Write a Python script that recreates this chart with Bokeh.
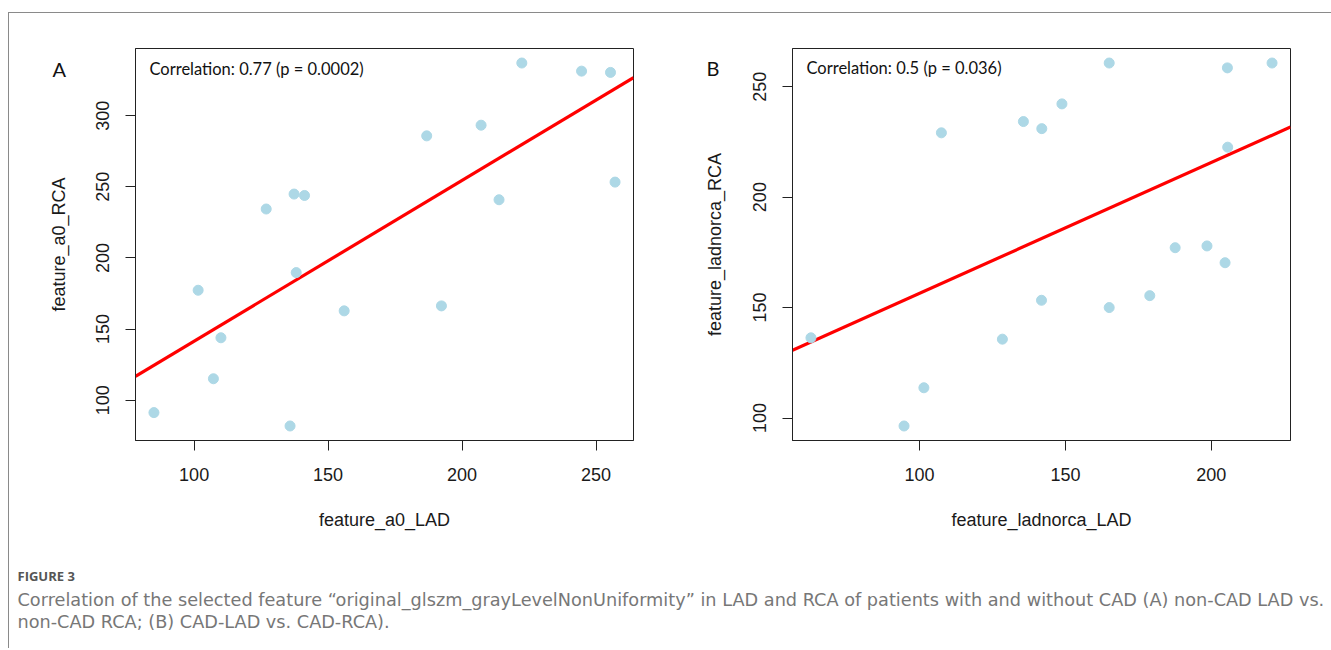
import math
import numpy as np
from bokeh.plotting import figure
from bokeh.layouts import column, row
from bokeh.models import FixedTicker, Label, Range1d
from bokeh.embed import file_html
from bokeh.resources import INLINE

# ---- data ----
a_lad = [85.0, 101.5, 107.2, 110.0, 126.9, 135.8, 137.3, 141.2, 138.1, 156.0,
         186.8, 192.3, 207.1, 213.8, 222.3, 244.6, 255.4, 257.1]
a_rca = [91.3, 177.3, 115.1, 143.9, 234.4, 81.9, 244.9, 243.9, 189.7, 162.8,
         285.8, 166.3, 293.3, 240.9, 337.0, 331.3, 330.4, 253.3]
b_lad = [62.8, 94.7, 101.5, 107.5, 128.4, 135.6, 141.9, 141.8, 148.8, 165.0,
         165.0, 178.9, 187.6, 198.5, 204.7, 205.5, 205.6, 220.8]
b_rca = [136.3, 96.4, 113.7, 229.1, 135.7, 234.2, 231.0, 153.3, 242.2, 260.7,
         150.0, 155.4, 177.1, 177.9, 170.3, 258.5, 222.6, 260.7]
a_xticks = [100, 150, 200, 250]
a_yticks = [100, 150, 200, 250, 300]
b_xticks = [100, 150, 200]
b_yticks = [100, 150, 200, 250]
a_texts = ["A", "Correlation: 0.77 (p = 0.0002)", "feature_a0_LAD", "feature_a0_RCA"]
b_texts = ["B", "Correlation: 0.5 (p = 0.036)", "feature_ladnorca_LAD", "feature_ladnorca_RCA"]
caption_head = "FIGURE 3"
caption_lines = [
    "Correlation of the selected feature \u201coriginal_glszm_grayLevelNonUniformity\u201d in LAD and RCA of patients with and without CAD (A) non-CAD LAD vs.",
    "non-CAD RCA; (B) CAD-LAD vs. CAD-RCA).",
]

AX_FONT = "Liberation Sans"
NOTE_FONT = "Lato"
H = 527          # height of the chart row
BOTTOM = 100     # space below the plotting frame


def rng(vals):
    lo, hi = min(vals), max(vals)
    pad = 0.04 * (hi - lo)
    return lo - pad, hi + pad


def blank(width, height, top=0, bottom=0):
    fh = height - top - bottom
    f = figure(width=width, height=height, x_range=Range1d(0, width), y_range=Range1d(0, fh),
               output_backend="svg", toolbar_location=None,
               min_border_left=0, min_border_right=0, min_border_top=top,
               min_border_bottom=bottom, x_axis_location=None, y_axis_location=None)
    f.grid.visible = False
    f.outline_line_color = None
    return f


def strip(width, texts, letter_x, label_x, top):
    """Left margin of a panel: panel letter and the y-axis title (frame-aligned)."""
    fh = H - top - BOTTOM
    s = blank(width, H, top, BOTTOM)
    s.add_layout(Label(x=letter_x, y=fh - 20, text=texts[0], text_font=NOTE_FONT,
                       text_font_size="20px", text_baseline="middle", text_color="#111111"))
    s.add_layout(Label(x=label_x, y=fh / 2, text=texts[3], text_font=AX_FONT,
                       text_font_size="18px", angle=math.pi / 2, text_align="center",
                       text_baseline="middle", text_color="#1a1a1a"))
    return s


def panel(xs, ys, xticks, yticks, texts, width, bl, br, bt):
    xr = rng(xs)
    yr = rng(ys)
    frame_h = H - bt - BOTTOM
    p = figure(width=width, height=H, x_range=Range1d(*xr), y_range=Range1d(*yr),
               output_backend="svg", toolbar_location=None,
               min_border_left=bl, min_border_right=br, min_border_top=bt,
               min_border_bottom=BOTTOM)
    p.grid.visible = False
    p.outline_line_color = "#222222"
    p.outline_line_width = 1
    for ax, ticks in ((p.xaxis[0], xticks), (p.yaxis[0], yticks)):
        ax.ticker = FixedTicker(ticks=ticks)
        ax.minor_tick_line_color = None
        ax.major_tick_in = 0
        ax.major_tick_out = 10
        ax.major_tick_line_color = "#222222"
        ax.axis_line_color = "#222222"
        ax.major_label_text_font = AX_FONT
        ax.major_label_text_font_size = "18px"
        ax.major_label_text_color = "#1a1a1a"
        ax.axis_label_text_font = AX_FONT
        ax.axis_label_text_font_size = "18px"
        ax.axis_label_text_font_style = "normal"
        ax.axis_label_text_color = "#1a1a1a"
    p.xaxis.major_label_standoff = 17
    p.xaxis.axis_label_standoff = 26
    p.yaxis.major_label_orientation = "vertical"
    p.yaxis.major_label_standoff = 16
    p.xaxis.axis_label = texts[2]

    # regression line across the plotting region
    k, b = np.polyfit(np.array(xs), np.array(ys), 1)
    lx = [xr[0], xr[1]]
    p.line(lx, [k * v + b for v in lx], line_color="#ff0000", line_width=3.2)
    p.scatter(xs, ys, size=10, fill_color="#add8e6", line_color="#add8e6")

    p.add_layout(Label(x=14, y=frame_h - 20, x_units="screen", y_units="screen",
                       text=texts[1], text_font=NOTE_FONT, text_font_size="16.5px",
                       text_baseline="middle", text_color="#111111"))
    return p


sA = strip(78, a_texts, 43, 49, 35)
pA = panel(a_lad, a_rca, a_xticks, a_yticks, a_texts, 573, 48, 27, 35)
sB = strip(84, b_texts, 46, 54, 34)
pB = panel(b_lad, b_rca, b_xticks, b_yticks, b_texts, 587, 48, 41, 34)

CAP_H = 108
cap = blank(1322, CAP_H)
cap.add_layout(Label(x=8, y=CAP_H - 35, text=caption_head, text_font="Open Sans",
                     text_font_size="13px", text_font_style="bold", text_color="#555555",
                     text_baseline="middle"))
for i, line in enumerate(caption_lines):
    cap.add_layout(Label(x=8, y=CAP_H - 59 - 22 * i, text=line, text_font="DejaVu Sans",
                         text_font_size="17.7px", text_color="#777777", text_baseline="middle"))

layout = column(row(sA, pA, sB, pB), cap, margin=(12, 0, 0, 8),
                styles={"border-top": "1px solid #8a8a8a", "border-left": "1px solid #8a8a8a"})

open("out.html", "w").write(file_html(layout, INLINE))
